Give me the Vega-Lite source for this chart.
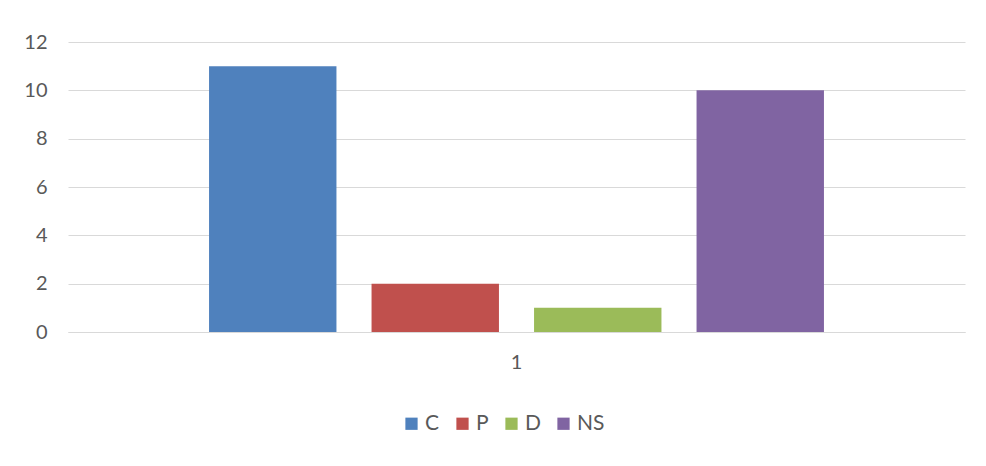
{
  "$schema": "https://vega.github.io/schema/vega-lite/v6.json",
  "width": 897,
  "height": 290,
  "autosize": {"type": "none"},
  "padding": {"left": 68, "top": 42, "right": 21, "bottom": 134},
  "background": "white",
  "config": {
    "view": {"stroke": null},
    "font": "Lato",
    "axis": {"labelFont": "Lato", "labelColor": "#595959", "labelFontSize": 20},
    "legend": {"labelFont": "Lato", "labelColor": "#595959", "labelFontSize": 21}
  },
  "data": {
    "values": [
      {"category": "1", "series": "C", "value": 11},
      {"category": "1", "series": "P", "value": 2},
      {"category": "1", "series": "D", "value": 1},
      {"category": "1", "series": "NS", "value": 10}
    ]
  },
  "mark": {"type": "bar"},
  "encoding": {
    "x": {
      "field": "category",
      "type": "nominal",
      "scale": {"paddingInner": 0, "paddingOuter": 0.19},
      "axis": {"title": null, "labelAngle": 0, "ticks": false, "domain": true, "domainColor": "#d9d9d9", "labelPadding": 20}
    },
    "xOffset": {
      "field": "series",
      "type": "nominal",
      "sort": ["C", "P", "D", "NS"],
      "scale": {"paddingInner": 0.216, "paddingOuter": 0.108}
    },
    "y": {
      "field": "value",
      "type": "quantitative",
      "scale": {"domain": [0, 12]},
      "axis": {"title": null, "values": [0, 2, 4, 6, 8, 10, 12], "ticks": false, "domain": false, "gridColor": "#d9d9d9", "gridWidth": 1.2, "labelPadding": 21}
    },
    "color": {
      "field": "series",
      "type": "nominal",
      "sort": ["C", "P", "D", "NS"],
      "scale": {"domain": ["C", "P", "D", "NS"], "range": ["#4F81BD", "#C0504D", "#9BBB59", "#8064A2"]},
      "legend": {"title": null, "orient": "none", "legendX": 333, "legendY": 371, "direction": "horizontal", "symbolType": "square", "symbolSize": 150, "symbolStrokeWidth": 0, "columnPadding": 12, "labelOffset": 3}
    }
  }
}
